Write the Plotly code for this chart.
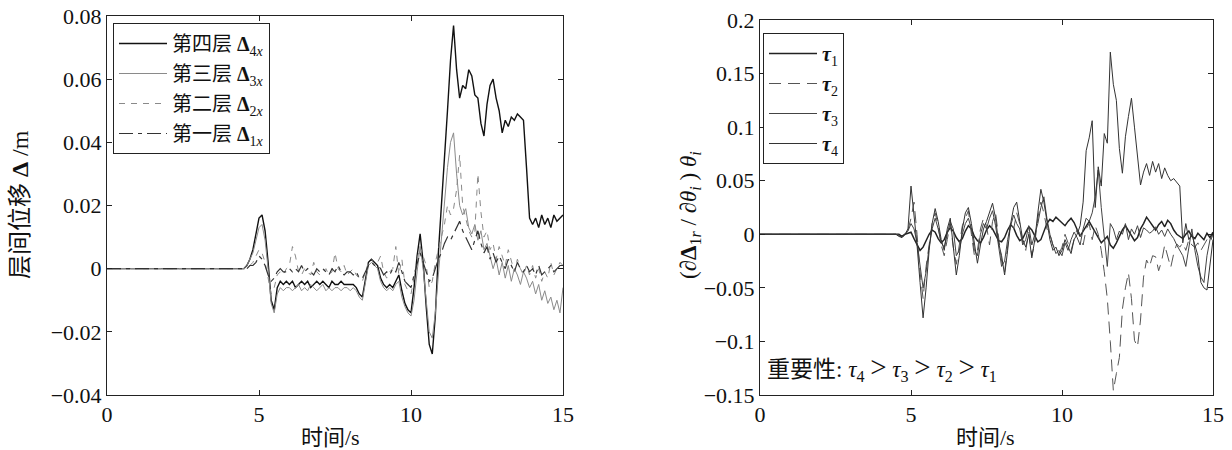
import plotly.graph_objects as go

# time grid: 0 s, then 4.5 s .. 15.0 s in 0.1 s steps
t = [0.0] + [round(4.5 + 0.1 * i, 1) for i in range(106)]

# ---- left panel: inter-storey drift (m) ----
d4 = [0.0,
      0.000, 0.001, 0.003, 0.006, 0.011,
      0.016, 0.017, 0.012, 0.002, -0.010, -0.013, -0.006, -0.004, -0.005, -0.004,
      -0.005, -0.004, -0.006, -0.005, -0.004, -0.005, -0.004, -0.006, -0.005, -0.004,
      -0.005, -0.004, -0.005, -0.006, -0.004, -0.005, -0.005, -0.004, -0.005, -0.005,
      -0.005, -0.005, -0.006, -0.008, -0.009, -0.003, 0.002, 0.003, 0.002, 0.001,
      -0.003, -0.005, -0.006, -0.005, -0.006, -0.004, -0.002, -0.007, -0.011, -0.013,
      -0.014, -0.006, 0.004, 0.011, 0.002, -0.012, -0.024, -0.027, -0.015, 0.005,
      0.022, 0.035, 0.050, 0.066, 0.077, 0.063, 0.054, 0.058, 0.057, 0.063,
      0.061, 0.055, 0.054, 0.046, 0.042, 0.052, 0.058, 0.060, 0.054, 0.050,
      0.043, 0.047, 0.045, 0.048, 0.047, 0.049, 0.048, 0.047, 0.032, 0.016,
      0.014, 0.016, 0.013, 0.017, 0.014, 0.016, 0.013, 0.017, 0.015, 0.016,
      0.017]
d3 = [0.0,
      0.000, 0.001, 0.003, 0.005, 0.009,
      0.013, 0.014, 0.009, 0.000, -0.011, -0.014, -0.008, -0.006, -0.007, -0.006,
      -0.006, -0.007, -0.006, -0.005, -0.007, -0.006, -0.007, -0.005, -0.006, -0.007,
      -0.006, -0.005, -0.007, -0.006, -0.007, -0.006, -0.006, -0.007, -0.006, -0.006,
      -0.007, -0.006, -0.007, -0.009, -0.010, -0.004, 0.001, 0.002, 0.001, 0.000,
      -0.004, -0.006, -0.007, -0.006, -0.007, -0.005, -0.004, -0.009, -0.012, -0.014,
      -0.015, -0.010, -0.001, 0.007, 0.000, -0.010, -0.020, -0.022, -0.014, -0.002,
      0.010, 0.022, 0.032, 0.040, 0.043, 0.030, 0.020, 0.017, 0.019, 0.013,
      0.011, 0.014, 0.009, 0.012, 0.006, 0.008, 0.004, 0.000, 0.003, -0.002,
      0.002, -0.003, 0.001, -0.004, 0.000, -0.002, -0.005, -0.001, -0.003, -0.006,
      -0.004, -0.008, -0.005, -0.010, -0.007, -0.011, -0.009, -0.013, -0.010, -0.014,
      -0.006]
d2 = [0.0,
      0.000, 0.000, 0.001, 0.002, 0.004,
      0.006, 0.005, 0.002, -0.003, -0.008, -0.006, -0.002, -0.001, -0.002, 0.000,
      0.001, 0.007, 0.004, -0.001, -0.002, 0.000, -0.001, -0.002, 0.002, -0.001,
      -0.002, -0.001, 0.000, -0.002, -0.001, 0.005, 0.000, -0.001, 0.001, -0.002,
      -0.001, 0.000, -0.002, -0.003, -0.004, -0.001, 0.002, 0.003, 0.001, 0.002,
      0.004, -0.001, -0.003, -0.001, 0.000, 0.007, -0.002, 0.003, -0.005, -0.007,
      -0.008, -0.003, 0.003, 0.007, 0.004, 0.001, -0.006, -0.004, 0.002, 0.006,
      0.010, 0.014, 0.020, 0.017, 0.019, 0.025, 0.036, 0.020, 0.016, 0.012,
      0.010, 0.012, 0.030, 0.018, 0.010, 0.012, 0.006, 0.008, 0.003, 0.007,
      0.004, 0.001, 0.006, 0.002, -0.001, 0.003, 0.000, -0.002, 0.001, -0.002,
      0.001, -0.003, 0.000, -0.004, -0.001, -0.003, 0.002, -0.002, 0.000, 0.002,
      0.001]
d1 = [0.0,
      0.000, 0.000, 0.001, 0.001, 0.002,
      0.004, 0.003, 0.001, -0.002, -0.004, -0.003, -0.001, 0.000, -0.001, -0.001,
      0.000, -0.001, 0.000, -0.001, 0.001, -0.001, 0.000, -0.001, -0.002, 0.000,
      -0.001, 0.000, -0.001, -0.002, 0.000, -0.001, 0.001, -0.001, -0.002, -0.001,
      -0.001, -0.002, -0.001, -0.003, -0.003, -0.001, 0.001, 0.002, 0.001, 0.001,
      0.000, -0.002, -0.001, -0.002, 0.000, -0.001, 0.002, -0.001, -0.004, -0.005,
      -0.006, -0.002, 0.002, 0.005, 0.002, -0.001, -0.004, -0.003, 0.000, 0.003,
      0.005, 0.008, 0.010, 0.009, 0.011, 0.013, 0.015, 0.012, 0.010, 0.008,
      0.006, 0.009, 0.012, 0.008, 0.005, 0.007, 0.003, 0.005, 0.002, 0.004,
      0.002, 0.000, 0.003, 0.001, -0.001, 0.002, 0.000, -0.001, 0.001, -0.001,
      0.000, -0.002, 0.001, -0.002, -0.001, 0.000, 0.001, -0.001, 0.000, 0.001,
      0.001]

# ---- right panel: sensitivity (∂Δ1r/∂θi)θi ----
tau1 = [0.0,
        0.000, 0.000, -0.002, 0.000, 0.001,
        0.002, -0.004, -0.010, -0.015, -0.012, -0.006, 0.000, 0.004, 0.002, -0.004,
        -0.008, -0.005, 0.002, 0.006, 0.003, -0.003, -0.007, -0.004, 0.003, 0.008,
        0.005, -0.002, -0.006, -0.008, -0.003, 0.004, 0.008, 0.005, -0.001, -0.006,
        -0.007, -0.003, 0.004, 0.009, 0.006, -0.001, -0.006, -0.004, 0.002, 0.007,
        0.004, -0.002, -0.007, -0.005, 0.002, 0.010, 0.014, 0.012, 0.016, 0.013,
        0.010, 0.008, 0.012, 0.015, 0.011, 0.004, -0.002, 0.003, 0.008, 0.012,
        0.007, 0.002, -0.004, -0.008, -0.005, -0.002, -0.010, -0.013, -0.008, -0.002,
        0.004, 0.008, 0.003, -0.002, -0.006, -0.003, 0.005, 0.010, 0.016, 0.012,
        0.008, 0.004, 0.009, 0.012, 0.007, 0.013, 0.010, 0.004, 0.000, -0.002,
        -0.004, 0.000, 0.003, -0.002, -0.004, 0.001, -0.002, -0.005, 0.001, -0.003,
        0.002]
tau2 = [0.0,
        0.000, -0.001, -0.003, 0.000, 0.004,
        0.015, 0.030, 0.000, -0.035, -0.060, -0.030, -0.010, 0.010, 0.020, 0.008,
        -0.010, -0.020, -0.005, 0.010, -0.012, -0.028, -0.010, 0.008, 0.015, 0.022,
        0.000, -0.020, -0.015, 0.005, 0.015, 0.008, -0.010, 0.012, 0.020, -0.005,
        -0.025, -0.035, -0.010, 0.012, 0.005, 0.020, 0.010, -0.008, -0.015, 0.002,
        -0.020, -0.008, 0.015, 0.030, 0.020, 0.005, 0.000, -0.010, -0.015, -0.018,
        -0.012, 0.000, -0.008, -0.015, -0.005, 0.005, 0.000, -0.010, 0.005, 0.010,
        -0.005, 0.008, 0.000, -0.015, -0.035, -0.060, -0.100, -0.146, -0.130, -0.115,
        -0.070, -0.050, -0.036, -0.060, -0.099, -0.105, -0.080, -0.040, -0.024, -0.030,
        -0.020, -0.021, -0.034, -0.025, -0.010, -0.020, -0.031, -0.018, -0.009, -0.012,
        -0.008, -0.015, -0.005, -0.010, -0.012, -0.008, -0.015, -0.010, -0.005, -0.008,
        0.000]
tau3 = [0.0,
        0.000, -0.001, -0.003, 0.000, 0.003,
        0.010, 0.005, -0.008, -0.030, -0.050, -0.035, -0.012, 0.005, 0.015, 0.005,
        -0.008, -0.012, 0.000, 0.012, 0.005, -0.020, -0.015, 0.000, 0.010, 0.015,
        0.005, -0.015, -0.020, 0.000, 0.010, 0.005, 0.015, 0.022, 0.008, -0.012,
        -0.030, -0.025, -0.005, 0.008, 0.018, 0.010, 0.005, -0.010, -0.005, 0.008,
        -0.010, 0.000, 0.010, 0.025, 0.035, 0.015, 0.000, -0.010, -0.018, -0.015,
        -0.020, -0.008, -0.015, -0.005, 0.002, -0.003, -0.010, 0.005, 0.015, 0.012,
        0.020, 0.035, 0.060, 0.025, -0.005, -0.030, 0.010, 0.005, -0.005, 0.003,
        0.000, 0.010, -0.005, 0.005, 0.000, 0.008, -0.003, 0.006, 0.004, 0.001,
        0.003, 0.007, 0.000, 0.004, -0.002, 0.005, 0.000, -0.004, -0.010, -0.015,
        -0.020, -0.030, -0.010, 0.005, -0.015, -0.030, -0.040, -0.045, -0.020, -0.005,
        0.000]
tau4 = [0.0,
        0.000, -0.002, -0.003, 0.000, 0.005,
        0.045, 0.020, -0.010, -0.045, -0.078, -0.050, -0.015, 0.010, 0.024, 0.012,
        -0.005, -0.015, 0.005, 0.015, -0.010, -0.038, -0.020, 0.005, 0.020, 0.025,
        0.010, -0.010, -0.027, -0.010, 0.005, 0.012, 0.020, 0.029, 0.015, -0.008,
        -0.020, -0.038, -0.015, 0.010, 0.025, 0.030, 0.012, -0.005, -0.012, 0.000,
        -0.022, -0.005, 0.020, 0.042, 0.030, 0.012, -0.005, -0.015, -0.012, -0.020,
        -0.015, -0.005, -0.012, -0.018, -0.005, 0.000, 0.008, 0.030, 0.078, 0.090,
        0.106, 0.025, 0.063, 0.045, 0.094, 0.085, 0.170, 0.140, 0.125, 0.080,
        0.057, 0.091, 0.110, 0.127, 0.100, 0.075, 0.046, 0.058, 0.066, 0.055,
        0.068, 0.058, 0.066, 0.052, 0.062, 0.055, 0.050, 0.052, 0.048, 0.045,
        -0.008, 0.010, -0.005, 0.000, -0.010, -0.020, -0.045, -0.050, -0.052, -0.030,
        -0.005]

x_ticks = [0, 5, 10, 15]
left_y_ticks = [-0.04, -0.02, 0, 0.02, 0.04, 0.06, 0.08]
left_y_text = ["−0.04", "−0.02", "0", "0.02", "0.04", "0.06", "0.08"]
right_y_ticks = [-0.15, -0.1, -0.05, 0, 0.05, 0.1, 0.15, 0.2]
right_y_text = ["−0.15", "−0.1", "−0.05", "0", "0.05", "0.1", "0.15", "0.2"]

SERIF = '"Liberation Serif", "Noto Sans CJK SC", serif'
W, H = 1232, 450

fig = go.Figure()

left_specs = [
    (d4, "第四层 <b>Δ</b><sub>4<i>x</i></sub>", "#111111", "solid", 1.4),
    (d3, "第三层 <b>Δ</b><sub>3<i>x</i></sub>", "#8a8a8a", "solid", 1.0),
    (d2, "第二层 <b>Δ</b><sub>2<i>x</i></sub>", "#8a8a8a", "6px,6px", 1.0),
    (d1, "第一层 <b>Δ</b><sub>1<i>x</i></sub>", "#333333", "14px,5px,4px,5px", 1.2),
]
for i, (ys, name, col, dash, w) in enumerate(left_specs):
    fig.add_trace(go.Scatter(x=t, y=ys, name=name, mode="lines",
                             line=dict(color=col, dash=dash, width=w),
                             xaxis="x", yaxis="y", legend="legend",
                             legendgroup="L%d" % i))

right_specs = [
    (tau1, "<b><i>τ</i></b><sub>1</sub>", "#222222", "solid", 1.5),
    (tau2, "<b><i>τ</i></b><sub>2</sub>", "#555555", "12px,7px", 1.0),
    (tau3, "<b><i>τ</i></b><sub>3</sub>", "#444444", "solid", 1.0),
    (tau4, "<b><i>τ</i></b><sub>4</sub>", "#333333", "solid", 1.0),
]
for i, (ys, name, col, dash, w) in enumerate(right_specs):
    fig.add_trace(go.Scatter(x=t, y=ys, name=name, mode="lines",
                             line=dict(color=col, dash=dash, width=w),
                             xaxis="x2", yaxis="y2", legend="legend2",
                             legendgroup="R%d" % i))

def px_x(p):
    return p / W

def px_y(p):
    return 1 - p / H

axis_common = dict(showgrid=False, zeroline=False, showline=True, linecolor="#222",
                   linewidth=1, mirror="ticks", ticks="inside", ticklen=5,
                   tickcolor="#222", automargin=False,
                   tickfont=dict(family=SERIF, size=22, color="#111"))

fig.update_layout(
    width=W, height=H,
    margin=dict(l=0, r=0, t=0, b=0),
    paper_bgcolor="white", plot_bgcolor="white",
    font=dict(family=SERIF, color="#111"),
    xaxis=dict(domain=[px_x(107), px_x(563)], range=[0, 15], tickvals=x_ticks,
               anchor="y", **axis_common),
    yaxis=dict(domain=[px_y(395), px_y(16)], range=[-0.04, 0.08],
               tickvals=left_y_ticks, ticktext=left_y_text, anchor="x", **axis_common),
    xaxis2=dict(domain=[px_x(760), px_x(1213)], range=[0, 15], tickvals=x_ticks,
                anchor="y2", **axis_common),
    yaxis2=dict(domain=[px_y(395), px_y(20)], range=[-0.15, 0.2],
                tickvals=right_y_ticks, ticktext=right_y_text, anchor="x2", **axis_common),
    legend=dict(x=px_x(113), y=px_y(23), xanchor="left", yanchor="top",
                bgcolor="white", bordercolor="#222", borderwidth=1,
                font=dict(family=SERIF, size=20, color="#111"),
                tracegroupgap=1, itemwidth=48),
    legend2=dict(x=px_x(763), y=px_y(33), xanchor="left", yanchor="top",
                 bgcolor="white", bordercolor="#222", borderwidth=1,
                 font=dict(family=SERIF, size=20, color="#111"),
                 tracegroupgap=1, itemwidth=48),
    showlegend=True,
)

fig.add_annotation(text="层间位移 <b>Δ</b> /m", xref="paper", yref="paper",
                   x=px_x(20), y=px_y(205), xanchor="center", yanchor="middle",
                   textangle=-90, showarrow=False,
                   font=dict(family=SERIF, size=24, color="#111"))
fig.add_annotation(text="(∂<b>Δ</b><sub>1<i>r</i></sub> / ∂<i>θ</i><sub><i>i</i></sub> ) <i>θ</i><sub><i>i</i></sub>",
                   xref="paper", yref="paper", x=px_x(690), y=px_y(215),
                   xanchor="center", yanchor="middle",
                   textangle=-90, showarrow=False,
                   font=dict(family=SERIF, size=23, color="#111"))
ann_font = dict(family=SERIF, size=22, color="#111")
fig.add_annotation(text="时间/s", xref="paper", yref="paper",
                   x=px_x(330), y=px_y(437), xanchor="center", yanchor="middle",
                   showarrow=False, font=ann_font)
fig.add_annotation(text="时间/s", xref="paper", yref="paper",
                   x=px_x(985), y=px_y(437), xanchor="center", yanchor="middle",
                   showarrow=False, font=ann_font)
GT = ' <span style="font-size:29px">&gt;</span> '
fig.add_annotation(text=("重要性: <i>τ</i><sub>4</sub>" + GT + "<i>τ</i><sub>3</sub>" + GT +
                         "<i>τ</i><sub>2</sub>" + GT + "<i>τ</i><sub>1</sub>"),
                   xref="paper", yref="paper", x=px_x(765), y=px_y(368),
                   xanchor="left", yanchor="middle", showarrow=False,
                   font=dict(family=SERIF, size=23, color="#111"))

fig.write_html("out.html",
               config={"displayModeBar": False},
               post_script="document.body.style.margin='0px';"
                           "document.body.style.overflow='hidden';")
